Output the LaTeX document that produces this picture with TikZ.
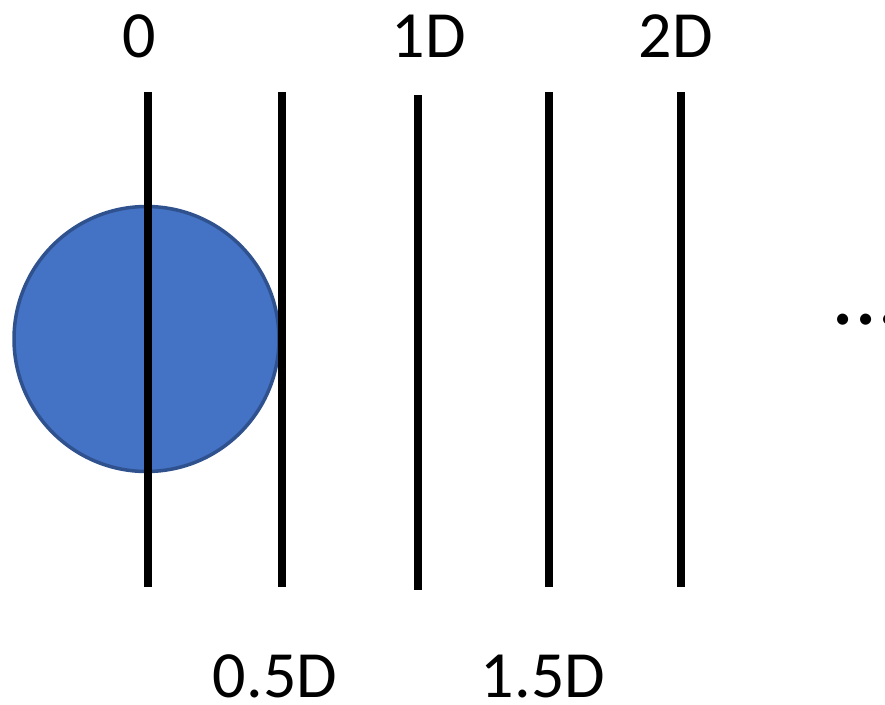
\documentclass[tikz,border=0pt]{standalone}
\usepackage{fontspec}
\setmainfont{Carlito}
\usetikzlibrary{positioning}
\definecolor{ballBlue}{RGB}{68,114,196}
\definecolor{ballEdge}{RGB}{47,82,143}

\begin{document}
\begin{tikzpicture}[x=1pt, y=-1pt,
      gridline/.style={line width=8.5pt, black},
      ball/.style={circle, draw=ballEdge, line width=3.5pt, fill=ballBlue,
        minimum size=265pt, inner sep=0pt},
      poslbl/.style={font=\fontsize{66}{70}\selectfont, inner sep=0pt,
        text depth=0pt, anchor=base},
      moredots/.style={font=\fontsize{92}{96}\selectfont, inner sep=0pt,
        text depth=0pt, anchor=base west},
    ]
    \useasboundingbox (0,0) rectangle (885,704);
    \clip (0,0) rectangle (885,704);

    % ---- the ball, half way over the first line ----
    \node[ball] (sphere) at (146.5,339) {};

    % ---- vertical lines every half diameter ----
    \foreach \name/\x/\top/\bot in {l0/148/92/587, l05/282/92/587,
        l1/418/95/590, l15/549/92/587, l2/681/92/587} {
      \coordinate (\name top) at (\x,\top);
      \coordinate (\name bot) at (\x,\bot);
      \draw[gridline] (\name top) -- (\name bot);
    }

    % ---- labels ----
    \node[poslbl] (lbl0)  at (139,57)  {0};
    \node[poslbl] (lbl1)  at (429,57)  {1D};
    \node[poslbl] (lbl2)  at (676,57)  {2D};
    \node[poslbl] (lbl05) at (275,697) {0.5D};
    \node[poslbl] (lbl15) at (543,697) {1.5D};
    \node[moredots] (dots) at (831,324) {...};
  \end{tikzpicture}
\end{document}
